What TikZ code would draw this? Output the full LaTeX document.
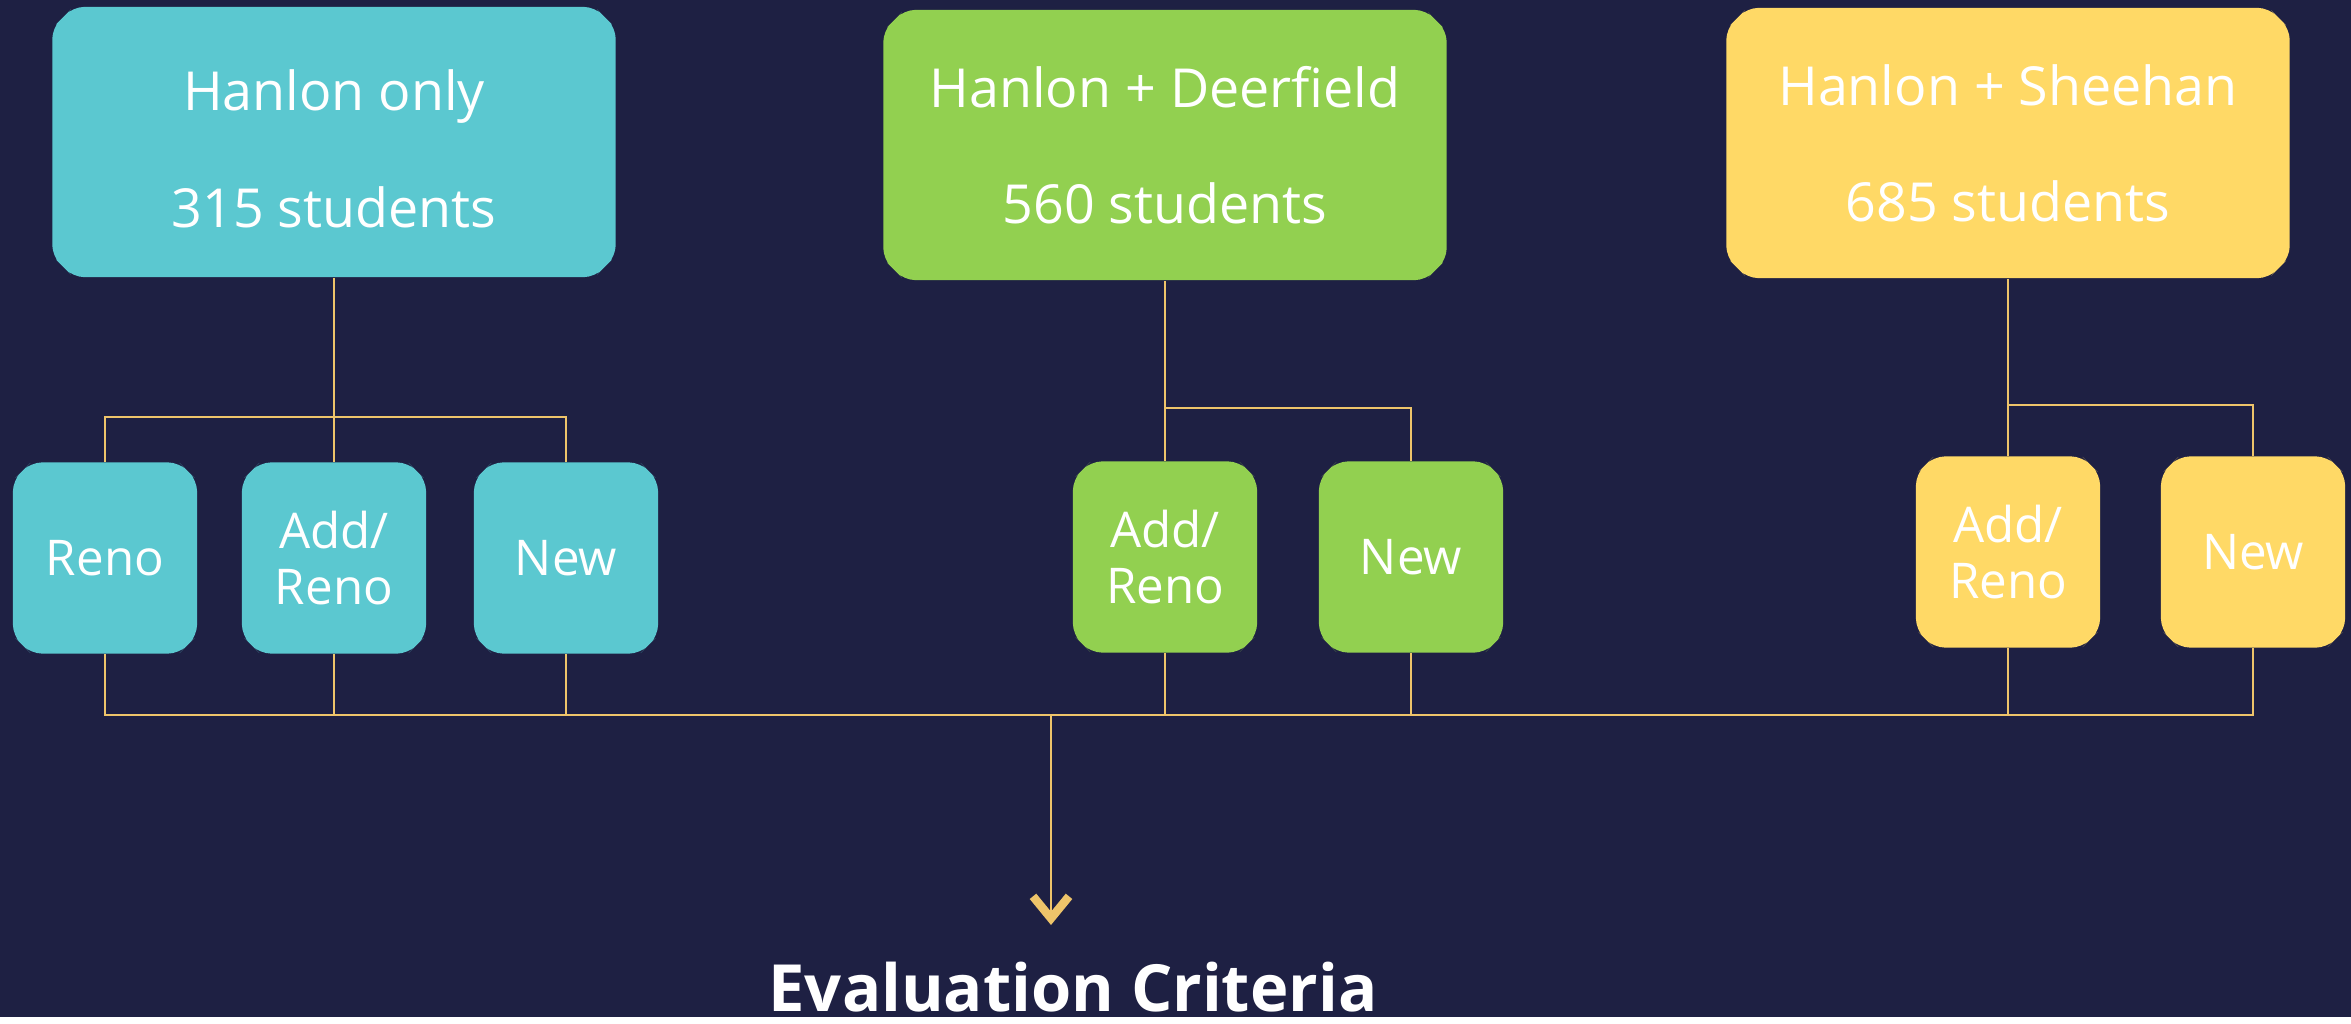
\documentclass[tikz,border=0pt]{standalone}
\usepackage{fontspec}
\setmainfont{Open Sans}
\usetikzlibrary{arrows.meta,shapes.misc}

\definecolor{navybg}{HTML}{1E2043}
\definecolor{teal}{HTML}{5BC8D0}
\definecolor{lime}{HTML}{92D050}
\definecolor{sun}{HTML}{FFD966}
\definecolor{wire}{HTML}{EEC46A}

\newcommand{\lift}{\rule{0pt}{15.5pt}}

\begin{document}
\begin{tikzpicture}[x=0.01cm, y=-0.01cm,
        bigbox/.style = {chamfered rectangle, chamfered rectangle xsep=0.11cm,
            chamfered rectangle ysep=0.1cm, rounded corners=3pt, inner sep=0pt,
            minimum width=5.63cm, minimum height=2.70cm, text=white, align=center,
            font={\fontsize{15.3}{33}\selectfont}},
        smallbox/.style = {chamfered rectangle, chamfered rectangle xsep=0.1cm,
            chamfered rectangle ysep=0.08cm, rounded corners=3pt, inner sep=0pt,
            minimum width=1.84cm, minimum height=1.91cm, text=white, align=center,
            font={\fontsize{14}{16}\selectfont}},
        link/.style = {draw=wire, line width=0.8pt},
        arrowlink/.style = {link, -{Straight Barb[length=0.22cm, width=0.36cm, line width=2.4pt]}}]
        \fill[navybg] (0, 0) rectangle (2351, 1017);
        % top level options
        \node[bigbox, fill=teal] (ho) at (334, 142) {\lift Hanlon only\\315 students};
        \node[bigbox, fill=lime] (hd) at (1165, 145) {Hanlon + Deerfield\\560 students};
        \node[bigbox, fill=sun] (hs) at (2008, 143) {Hanlon + Sheehan\\685 students};
        % building choices
        \node[smallbox, fill=teal] (hoReno) at (105, 558) {Reno};
        \node[smallbox, fill=teal] (hoAdd) at (334, 558) {Add/\\Reno};
        \node[smallbox, fill=teal] (hoNew) at (566, 558) {New};
        \node[smallbox, fill=lime] (hdAdd) at (1165, 557) {Add/\\Reno};
        \node[smallbox, fill=lime] (hdNew) at (1411, 557) {New};
        \node[smallbox, fill=sun] (hsAdd) at (2008, 552) {Add/\\Reno};
        \node[smallbox, fill=sun] (hsNew) at (2253, 552) {New};
        \node[font={\fontsize{18.5}{22}\selectfont\bfseries}, text=white] (eval) at (1073, 987) {Evaluation Criteria};
        \coordinate (hoJ) at (334, 417);
        \coordinate (hdJ) at (1165, 408);
        \coordinate (hsJ) at (2008, 405);
        \coordinate (busL) at (105, 715);
        \coordinate (busR) at (2253, 715);
        \coordinate (busA) at (1051, 715);
        \coordinate (tip) at (1051, 925);
        % branches
        \draw[link] (ho.south) -- (hoJ) -- (hoAdd.north);
        \draw[link] (hoReno.north) |- (hoJ) -| (hoNew.north);
        \draw[link] (hd.south) -- (hdJ) -- (hdAdd.north);
        \draw[link] (hdJ) -| (hdNew.north);
        \draw[link] (hs.south) -- (hsJ) -- (hsAdd.north);
        \draw[link] (hsJ) -| (hsNew.north);
        % bus
        \draw[link] (hoReno.south) |- (busR) -- (hsNew.south);
        \foreach \b in {hoAdd, hoNew, hdAdd, hdNew, hsAdd}
            \draw[link] (\b.south) -- (\b.south |- busL);
        \draw[arrowlink] (busA) -- (tip);
    \end{tikzpicture}
\end{document}
